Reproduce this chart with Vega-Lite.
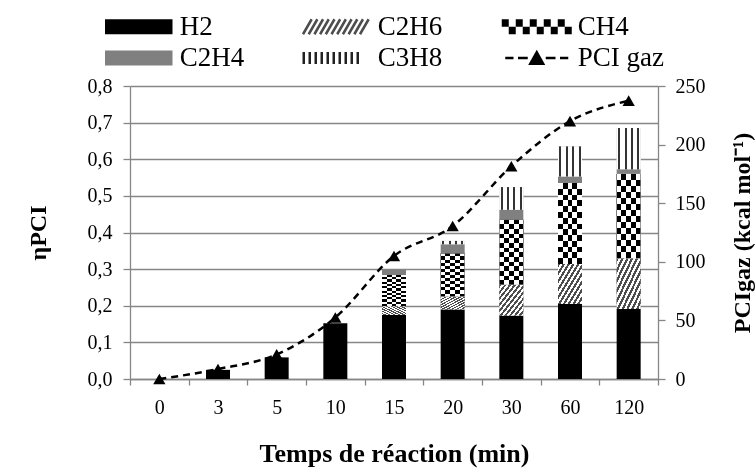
{
  "$schema": "https://vega.github.io/schema/vega-lite/v6.json",
  "width": 528,
  "height": 293,
  "autosize": {"type": "none"},
  "padding": {"left": 130, "top": 86, "right": 97, "bottom": 90},
  "background": "white",
  "config": {
    "font": "Liberation Serif",
    "view": {"stroke": null},
    "axis": {
      "labelFont": "Liberation Serif", "titleFont": "Liberation Serif",
      "labelColor": "black", "titleColor": "black",
      "domainColor": "#868686", "tickColor": "#868686", "gridColor": "#868686",
      "domainWidth": 1.3, "tickWidth": 1.3, "gridWidth": 1.3,
      "labelFontSize": 20, "titleFontSize": 24, "titleFontWeight": "bold",
      "labelFlush": false, "labelOverlap": false
    }
  },
  "layer": [
    {
      "data": {"values": [
        {"t": "0", "sp": "H2", "v": 0},
        {"t": "3", "sp": "H2", "v": 0.025},
        {"t": "5", "sp": "H2", "v": 0.059},
        {"t": "10", "sp": "H2", "v": 0.152},
        {"t": "15", "sp": "H2", "v": 0.175},
        {"t": "15", "sp": "C2H6", "v": 0.024},
        {"t": "15", "sp": "CH4", "v": 0.085},
        {"t": "15", "sp": "C2H4", "v": 0.016},
        {"t": "20", "sp": "H2", "v": 0.19},
        {"t": "20", "sp": "C2H6", "v": 0.035},
        {"t": "20", "sp": "CH4", "v": 0.118},
        {"t": "20", "sp": "C2H4", "v": 0.025},
        {"t": "20", "sp": "C3H8", "v": 0.009},
        {"t": "30", "sp": "H2", "v": 0.173},
        {"t": "30", "sp": "C2H6", "v": 0.084},
        {"t": "30", "sp": "CH4", "v": 0.178},
        {"t": "30", "sp": "C2H4", "v": 0.027},
        {"t": "30", "sp": "C3H8", "v": 0.062},
        {"t": "60", "sp": "H2", "v": 0.205},
        {"t": "60", "sp": "C2H6", "v": 0.109},
        {"t": "60", "sp": "CH4", "v": 0.221},
        {"t": "60", "sp": "C2H4", "v": 0.018},
        {"t": "60", "sp": "C3H8", "v": 0.082},
        {"t": "120", "sp": "H2", "v": 0.191},
        {"t": "120", "sp": "C2H6", "v": 0.139},
        {"t": "120", "sp": "CH4", "v": 0.23},
        {"t": "120", "sp": "C2H4", "v": 0.013},
        {"t": "120", "sp": "C3H8", "v": 0.112}
      ]},
      "transform": [
        {"calculate": "indexof(['H2','C2H6','CH4','C2H4','C3H8'], datum.sp)", "as": "o"},
        {"stack": "v", "groupby": ["t"], "sort": [{"field": "o", "order": "ascending"}], "as": ["y0", "y1"]}
      ],
      "encoding": {
        "x": {
          "field": "t", "type": "ordinal",
          "scale": {"domain": ["0", "3", "5", "10", "15", "20", "30", "60", "120"], "paddingInner": 0, "paddingOuter": 0},
          "axis": {
            "title": "Temps de réaction (min)", "titleFontSize": 26,
            "labelAngle": 0, "tickBand": "extent", "tickSize": 6,
            "labelPadding": 12, "titlePadding": 23, "grid": false
          }
        },
        "y": {
          "field": "y1", "type": "quantitative",
          "scale": {"domain": [0, 0.8], "nice": false},
          "axis": {
            "title": "ηPCI", "orient": "left",
            "values": [0, 0.1, 0.2, 0.3, 0.4, 0.5, 0.6, 0.7, 0.8],
            "labelExpr": "replace(format(datum.value, '.1f'), '.', ',')",
            "grid": true, "tickSize": 7, "labelPadding": 11, "titlePadding": 37
          }
        },
        "y2": {"field": "y0"}
      },
      "layer": [
        {
          "mark": {"type": "bar", "width": 24},
          "encoding": {
            "color": {
              "field": "sp", "type": "nominal",
              "scale": {
                "domain": ["H2", "C2H6", "CH4", "C2H4", "C3H8", "PCI gaz"],
                "range": ["black", "#7a7a7a", "#444444", "#808080", "#bbbbbb", "black"]
              },
              "legend": {
                "orient": "none", "legendX": -25, "legendY": -73,
                "direction": "horizontal", "columns": 3, "title": null,
                "symbolType": "M-4.5,-1H4.5V1H-4.5Z", "symbolSize": 225, "symbolStrokeWidth": 2.5,
                "symbolOffset": 20.25, "labelOffset": 27.5,
                "labelFont": "Liberation Serif", "labelFontSize": 27, "labelColor": "black", "labelLimit": 300,
                "columnPadding": 53, "rowPadding": 3.5, "padding": 0,
                "encode": {
                  "symbols": {
                    "update": {
                      "shape": [
                        {"test": "datum.value === 'CH4'", "value": "M-4.667,-0.833H4.667M-4.667,-0.5H4.667M-4.667,-0.167H4.667M4.667,0.167H-4.667M4.667,0.5H-4.667M4.667,0.833H-4.667"},
                        {"test": "datum.value === 'PCI gaz'", "value": "M-4.2,0H-3.1M-2.5,0H-1.2M1.2,0H2.5M3.1,0H4.2M-0.85,0.75L0,-0.75L0.85,0.75Z"},
                        {"test": "datum.value === 'C2H6'", "value": "M-4.5,1L-3.345,-1M-3.74,1L-2.585,-1M-2.98,1L-1.825,-1M-2.22,1L-1.065,-1M-1.46,1L-0.305,-1M-0.7,1L0.455,-1M0.06,1L1.215,-1M0.82,1L1.975,-1M1.58,1L2.735,-1M2.34,1L3.495,-1M3.1,1L4.255,-1"},
                        {"test": "datum.value === 'C3H8'", "value": "M-4.4,-0.8V0.8M-3.6,-0.8V0.8M-2.8,-0.8V0.8M-2,-0.8V0.8M-1.2,-0.8V0.8M-0.4,-0.8V0.8M0.4,-0.8V0.8M1.2,-0.8V0.8M2,-0.8V0.8M2.8,-0.8V0.8"},
                        {"value": "M-4.5,-1H4.5V1H-4.5Z"}
                      ],
                      "fill": [
                        {"test": "datum.value === 'C2H6' || datum.value === 'C3H8' || datum.value === 'CH4'", "value": "transparent"},
                        {"test": "datum.value === 'C2H4'", "value": "#808080"},
                        {"value": "black"}
                      ],
                      "stroke": [
                        {"test": "datum.value === 'CH4' || datum.value === 'PCI gaz'", "value": "black"},
                        {"test": "datum.value === 'C2H6'", "value": "#4d4d4d"},
                        {"test": "datum.value === 'C3H8'", "value": "#222222"},
                        {"value": "transparent"}
                      ],
                      "strokeDash": [
                        {"test": "datum.value === 'CH4'", "value": [7, 7]}
                      ],
                      "opacity": {"value": 1}
                    }
                  }
                }
              }
            }
          }
        },
        {
          "transform": [{"filter": "datum.sp === 'C2H6'"}],
          "mark": {"type": "bar", "width": 24, "fill": {"gradient": "linear", "x1": 0, "y1": 0, "x2": 1, "y2": 1, "stops": [
            {"offset": 0, "color": "#4d4d4d"}, {"offset": 0.05, "color": "#4d4d4d"}, {"offset": 0.05, "color": "white"}, {"offset": 0.1, "color": "white"},
            {"offset": 0.1, "color": "#4d4d4d"}, {"offset": 0.15, "color": "#4d4d4d"}, {"offset": 0.15, "color": "white"}, {"offset": 0.2, "color": "white"},
            {"offset": 0.2, "color": "#4d4d4d"}, {"offset": 0.25, "color": "#4d4d4d"}, {"offset": 0.25, "color": "white"}, {"offset": 0.3, "color": "white"},
            {"offset": 0.3, "color": "#4d4d4d"}, {"offset": 0.35, "color": "#4d4d4d"}, {"offset": 0.35, "color": "white"}, {"offset": 0.4, "color": "white"},
            {"offset": 0.4, "color": "#4d4d4d"}, {"offset": 0.45, "color": "#4d4d4d"}, {"offset": 0.45, "color": "white"}, {"offset": 0.5, "color": "white"},
            {"offset": 0.5, "color": "#4d4d4d"}, {"offset": 0.55, "color": "#4d4d4d"}, {"offset": 0.55, "color": "white"}, {"offset": 0.6, "color": "white"},
            {"offset": 0.6, "color": "#4d4d4d"}, {"offset": 0.65, "color": "#4d4d4d"}, {"offset": 0.65, "color": "white"}, {"offset": 0.7, "color": "white"},
            {"offset": 0.7, "color": "#4d4d4d"}, {"offset": 0.75, "color": "#4d4d4d"}, {"offset": 0.75, "color": "white"}, {"offset": 0.8, "color": "white"},
            {"offset": 0.8, "color": "#4d4d4d"}, {"offset": 0.85, "color": "#4d4d4d"}, {"offset": 0.85, "color": "white"}, {"offset": 0.9, "color": "white"},
            {"offset": 0.9, "color": "#4d4d4d"}, {"offset": 0.95, "color": "#4d4d4d"}, {"offset": 0.95, "color": "white"}, {"offset": 1, "color": "white"}
          ]}}
        },
        {
          "transform": [{"filter": "datum.sp === 'CH4'"}],
          "mark": {"type": "bar", "width": 24, "fill": {"gradient": "linear", "x1": 0, "y1": 0, "x2": 0, "y2": 1, "stops": [
            {"offset": 0, "color": "black"}, {"offset": 0.0714, "color": "black"}, {"offset": 0.0714, "color": "white"}, {"offset": 0.1429, "color": "white"},
            {"offset": 0.1429, "color": "black"}, {"offset": 0.2143, "color": "black"}, {"offset": 0.2143, "color": "white"}, {"offset": 0.2857, "color": "white"},
            {"offset": 0.2857, "color": "black"}, {"offset": 0.3571, "color": "black"}, {"offset": 0.3571, "color": "white"}, {"offset": 0.4286, "color": "white"},
            {"offset": 0.4286, "color": "black"}, {"offset": 0.5, "color": "black"}, {"offset": 0.5, "color": "white"}, {"offset": 0.5714, "color": "white"},
            {"offset": 0.5714, "color": "black"}, {"offset": 0.6429, "color": "black"}, {"offset": 0.6429, "color": "white"}, {"offset": 0.7143, "color": "white"},
            {"offset": 0.7143, "color": "black"}, {"offset": 0.7857, "color": "black"}, {"offset": 0.7857, "color": "white"}, {"offset": 0.8571, "color": "white"},
            {"offset": 0.8571, "color": "black"}, {"offset": 0.9286, "color": "black"}, {"offset": 0.9286, "color": "white"}, {"offset": 1, "color": "white"}
          ]}}
        },
        {
          "transform": [{"filter": "datum.sp === 'CH4'"}],
          "mark": {"type": "bar", "width": 24, "blend": "difference", "fill": {"gradient": "linear", "x1": 0, "y1": 0, "x2": 1, "y2": 0, "stops": [
            {"offset": 0, "color": "white"}, {"offset": 0.2, "color": "white"}, {"offset": 0.2, "color": "black"}, {"offset": 0.4, "color": "black"},
            {"offset": 0.4, "color": "white"}, {"offset": 0.6, "color": "white"}, {"offset": 0.6, "color": "black"}, {"offset": 0.8, "color": "black"},
            {"offset": 0.8, "color": "white"}, {"offset": 1, "color": "white"}
          ]}}
        },
        {
          "transform": [{"filter": "datum.sp === 'C3H8'"}],
          "mark": {"type": "bar", "width": 24, "fill": {"gradient": "linear", "x1": 0, "y1": 0, "x2": 1, "y2": 0, "stops": [
            {"offset": 0, "color": "white"}, {"offset": 0.06, "color": "white"}, {"offset": 0.06, "color": "#333333"}, {"offset": 0.14, "color": "#333333"},
            {"offset": 0.14, "color": "white"}, {"offset": 0.33, "color": "white"}, {"offset": 0.33, "color": "#333333"}, {"offset": 0.41, "color": "#333333"},
            {"offset": 0.41, "color": "white"}, {"offset": 0.59, "color": "white"}, {"offset": 0.59, "color": "#333333"}, {"offset": 0.67, "color": "#333333"},
            {"offset": 0.67, "color": "white"}, {"offset": 0.86, "color": "white"}, {"offset": 0.86, "color": "#333333"}, {"offset": 0.94, "color": "#333333"},
            {"offset": 0.94, "color": "white"}, {"offset": 1, "color": "white"}
          ]}}
        }
      ]
    },
    {
      "data": {"values": [
        {"t": "0", "pci": 0},
        {"t": "3", "pci": 8.5},
        {"t": "5", "pci": 21},
        {"t": "10", "pci": 52.5},
        {"t": "15", "pci": 105},
        {"t": "20", "pci": 130.5},
        {"t": "30", "pci": 181.5},
        {"t": "60", "pci": 220},
        {"t": "120", "pci": 237.5}
      ]},
      "encoding": {
        "x": {
          "field": "t", "type": "ordinal",
          "scale": {"domain": ["0", "3", "5", "10", "15", "20", "30", "60", "120"], "paddingInner": 0, "paddingOuter": 0},
          "axis": {
            "title": "Temps de réaction (min)", "titleFontSize": 26,
            "labelAngle": 0, "tickBand": "extent", "tickSize": 6,
            "labelPadding": 12, "titlePadding": 23, "grid": false
          }
        },
        "y": {
          "field": "pci", "type": "quantitative",
          "scale": {"domain": [0, 250], "nice": false},
          "axis": {
            "title": "PCIgaz (kcal mol⁻¹)", "orient": "right",
            "values": [0, 50, 100, 150, 200, 250],
            "grid": false, "tickSize": 7, "labelPadding": 10, "titlePadding": 25,
            "titleAngle": -90, "titleBaseline": "top"
          }
        }
      },
      "layer": [
        {"mark": {"type": "line", "interpolate": "monotone", "color": "black", "strokeWidth": 2.5, "strokeDash": [7, 5]}},
        {"mark": {"type": "point", "shape": "triangle-up", "filled": true, "color": "black", "size": 150, "opacity": 1}}
      ]
    }
  ],
  "resolve": {"scale": {"y": "independent"}}
}
